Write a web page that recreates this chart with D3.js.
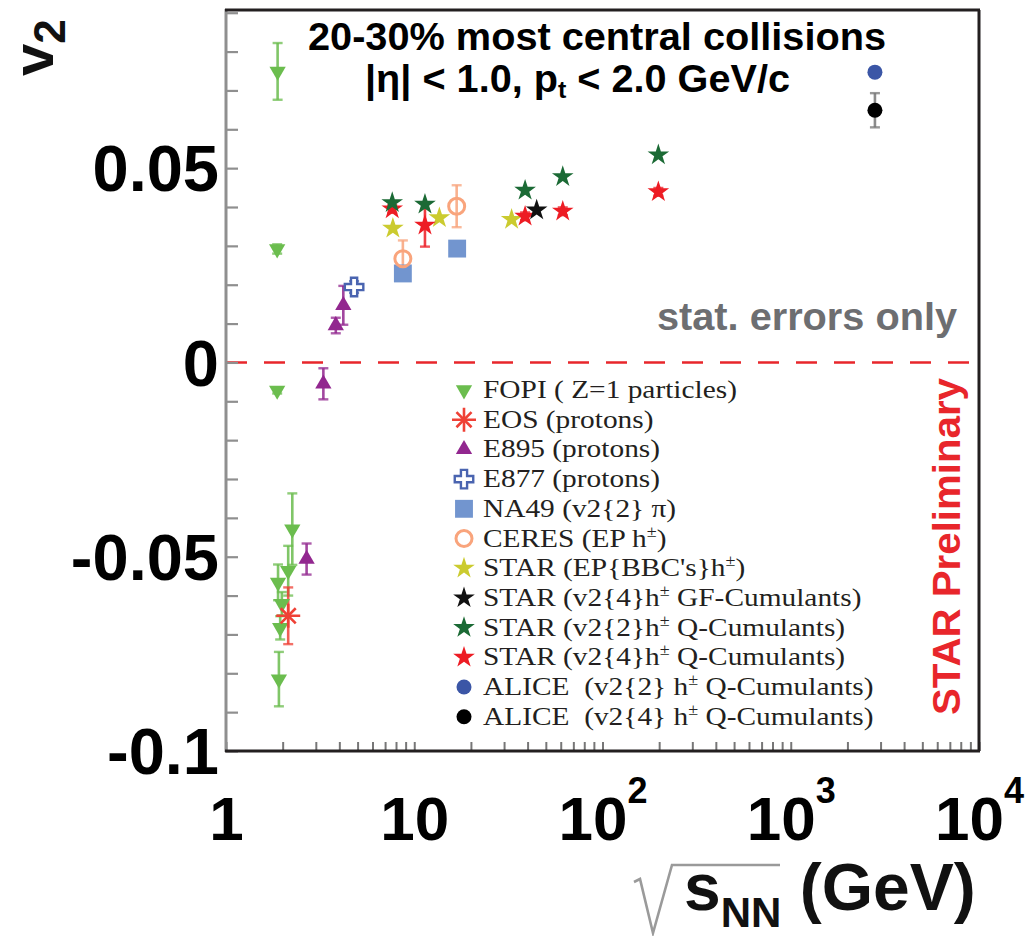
<!DOCTYPE html>
<html><head><meta charset="utf-8">
<script src="https://cdn.jsdelivr.net/npm/d3@7"></script>
<style>body{margin:0;background:#fff;} svg{display:block;} text{white-space:pre;}</style>
</head><body><svg id="c" width="1030" height="936"></svg>
<script>
// ---------------- data ----------------
const fopiX   = [1.88, 1.87, 1.87, 2.25, 2.14, 1.89, 1.98, 1.94, 1.91];
const fopiV   = [0.0749, 0.0292, -0.0072, -0.0429, -0.0536, -0.0566, -0.0621, -0.0683, -0.0815];
const fopiErr = [0.0073, 0.0012, 0.0008, 0.0092, 0.0064, 0.0046, 0.003, 0.003, 0.007];

const eosX   = [2.14];
const eosV   = [-0.0652];
const eosErr = [0.0073];

const e895X   = [2.68, 3.29, 3.83, 4.2];
const e895V   = [-0.0506, -0.0055, 0.0095, 0.0147];
const e895Err = [0.004, 0.004, 0.002, 0.005];

const e877X   = [4.79];
const e877V   = [0.0194];
const e877Err = [0.0015];

const na49X   = [8.7, 16.9];
const na49V   = [0.0229, 0.0293];
const na49Err = [0.001, 0.001];

const ceresX   = [8.7, 16.8];
const ceresV   = [0.0267, 0.0402];
const ceresErr = [0.0047, 0.0054];

const starEPX = [7.7, 13.6, 32.9];
const starEPV = [0.0345, 0.0372, 0.0368];

const starGFX = [44.7];
const starGFV = [0.0392];

const starQ2X = [7.64, 11.4, 38.8, 61.5, 198];
const starQ2V = [0.0411, 0.0407, 0.0443, 0.0478, 0.0534];

const starQ4X   = [7.64, 11.4, 38.8, 61.5, 198];
const starQ4V   = [0.0395, 0.0353, 0.0376, 0.0389, 0.0439];
const starQ4Err = [0.001, 0.0055, 0.001, 0.001, 0.001];

const alice2X = [2800];
const alice2V = [0.0747];

const alice4X   = [2800];
const alice4V   = [0.0649];
const alice4Err = [0.0044];

const legendLabels = [
  "FOPI ( Z=1 particles)",
  "EOS (protons)",
  "E895 (protons)",
  "E877 (protons)",
  "NA49 (v2{2} \u03c0)",
  "CERES (EP h^\u00b1)",
  "STAR (EP{BBC's}h^\u00b1)",
  "STAR (v2{4}h^\u00b1 GF-Cumulants)",
  "STAR (v2{2}h^\u00b1 Q-Cumulants)",
  "STAR (v2{4}h^\u00b1 Q-Cumulants)",
  "ALICE  (v2{2} h^\u00b1 Q-Cumulants)",
  "ALICE  (v2{4} h^\u00b1 Q-Cumulants)"
];

const xMajor = [1, 10, 100, 1000, 10000];
const xTickLabels = ["1", "10", "10^2", "10^3", "10^4"];
const yMajor = [-0.1, -0.05, 0, 0.05];
const yTickLabels = ["-0.1", "-0.05", "0", "0.05"];

// ---------------- series table built from arrays ----------------
const z = (a) => a.map(() => 0);
const series = [
  {kind:'triDown', color:'#6bbd4e', xs:fopiX,  vs:fopiV,  es:fopiErr},
  {kind:'asterisk',color:'#ef4136', xs:eosX,   vs:eosV,   es:eosErr},
  {kind:'triUp',   color:'#92278f', xs:e895X,  vs:e895V,  es:e895Err},
  {kind:'cross',   color:'#4a64b0', xs:e877X,  vs:e877V,  es:e877Err},
  {kind:'square',  color:'#7295cf', xs:na49X,  vs:na49V,  es:na49Err},
  {kind:'ocircle', color:'#f9a47c', xs:ceresX, vs:ceresV, es:ceresErr},
  {kind:'star',    color:'#cbcb2f', xs:starEPX,vs:starEPV,es:z(starEPX)},
  {kind:'star',    color:'#ed1c24', xs:starQ4X,vs:starQ4V,es:starQ4Err},
  {kind:'star',    color:'#111111', xs:starGFX,vs:starGFV,es:z(starGFX)},
  {kind:'star',    color:'#1b6a35', xs:starQ2X,vs:starQ2V,es:z(starQ2X)},
  {kind:'circle',  color:'#3b56a6', xs:alice2X,vs:alice2V,es:z(alice2X)},
  {kind:'circle',  color:'#000000', xs:alice4X,vs:alice4V,es:alice4Err}
];
// legend order -> series index
const legendOrder = [0,1,2,3,4,5,6,8,9,7,10,11];

// ---------------- drawing ----------------
const svg = d3.select('#c');
const x = d3.scaleLog().domain([1, 1e4]).range([226, 979]);
const y = d3.scaleLinear().domain([-0.1, 0.0907]).range([751, 10]);

const SANS = "'Liberation Sans', Arial, Helvetica, sans-serif";
const SERIF = "'Liberation Serif', 'Times New Roman', serif";

function marker(g, kind, color, cx, cy) {
  const t = `translate(${cx},${cy})`;
  switch (kind) {
    case 'triDown':
      g.append('path').attr('d', d3.symbol(d3.symbolTriangle, 115)())
        .attr('transform', t + ' rotate(180)').attr('fill', color); break;
    case 'triUp':
      g.append('path').attr('d', d3.symbol(d3.symbolTriangle, 115)())
        .attr('transform', t).attr('fill', color); break;
    case 'asterisk':
      g.append('path').attr('d', d3.symbol(d3.symbolPlus, 190)())
        .attr('transform', t).attr('fill', 'none').attr('stroke', color).attr('stroke-width', 2.6);
      g.append('path').attr('d', d3.symbol(d3.symbolTimes, 150)())
        .attr('transform', t).attr('fill', 'none').attr('stroke', color).attr('stroke-width', 2.6);
      break;
    case 'cross':
      g.append('path').attr('d', d3.symbol(d3.symbolCross, 190)())
        .attr('transform', t).attr('fill', '#fff').attr('stroke', color).attr('stroke-width', 2.4); break;
    case 'square':
      g.append('path').attr('d', d3.symbol(d3.symbolSquare, 320)())
        .attr('transform', t).attr('fill', color); break;
    case 'ocircle':
      g.append('circle').attr('cx', cx).attr('cy', cy).attr('r', 8)
        .attr('fill', 'none').attr('stroke', color).attr('stroke-width', 3); break;
    case 'star':
      g.append('path').attr('d', d3.symbol(d3.symbolStar, 145)())
        .attr('transform', t).attr('fill', color); break;
    case 'circle':
      g.append('circle').attr('cx', cx).attr('cy', cy).attr('r', 7.5).attr('fill', color); break;
  }
}

// zero line
svg.append('line').attr('x1', x(1)).attr('x2', x(1e4)).attr('y1', y(0)).attr('y2', y(0))
  .attr('stroke', '#e8262b').attr('stroke-width', 2.6).attr('stroke-dasharray', '21,17');

// axes (ticks inside)
const yTicks = d3.range(-10, 10).map(i => i / 100);
const yAx = svg.append('g').attr('transform', `translate(${x(1)},0)`)
  .call(d3.axisLeft(y).tickValues(yTicks).tickSize(-12).tickPadding(7)
    .tickFormat(v => { const i = yMajor.findIndex(m => Math.abs(m - v) < 1e-9); return i >= 0 ? yTickLabels[i] : ''; }));
yAx.select('.domain').remove();
yAx.selectAll('.tick line').attr('stroke', '#8f8f8f').attr('stroke-width', 2.2);
yAx.selectAll('.tick text').attr('font-family', SANS).attr('font-weight', 'bold')
  .attr('font-size', 65).attr('fill', '#000').attr('dy', '0.35em');

const xTicks = [];
for (let d = 0; d < 4; d++) for (let k = 1; k <= 9; k++) xTicks.push(k * Math.pow(10, d));
xTicks.push(1e4);
const xAx = svg.append('g').attr('transform', `translate(0,${y(-0.1)})`)
  .call(d3.axisBottom(x).tickValues(xTicks).tickSize(-9).tickPadding(45).tickFormat(() => ''));
xAx.select('.domain').remove();
xAx.selectAll('.tick line').attr('stroke', '#777').attr('stroke-width', 2);
xAx.selectAll('.tick').each(function(v) {
  const i = xMajor.findIndex(m => Math.abs(m - v) / m < 1e-9);
  if (i < 0) return;
  const txt = d3.select(this).select('text').text(null)
    .attr('font-family', SANS).attr('font-weight', 'bold').attr('font-size', 62).attr('fill', '#000');
  const parts = xTickLabels[i].split('^');
  txt.append('tspan').text(parts[0]);
  if (parts[1]) txt.append('tspan').attr('font-size', 36).attr('dy', -37).text(parts[1]);
});

// frame
svg.append('line').attr('x1', x(1)).attr('x2', x(1)).attr('y1', y(0.0907) - 1).attr('y2', y(-0.1) + 1)
  .attr('stroke', '#8f8f8f').attr('stroke-width', 3);
svg.append('line').attr('x1', x(1) - 1).attr('x2', x(1e4) + 1).attr('y1', y(-0.1)).attr('y2', y(-0.1))
  .attr('stroke', '#231f20').attr('stroke-width', 3);
svg.append('line').attr('x1', x(1) - 1).attr('x2', x(1e4) + 1).attr('y1', y(0.0907)).attr('y2', y(0.0907))
  .attr('stroke', '#231f20').attr('stroke-width', 3);
svg.append('line').attr('x1', x(1e4)).attr('x2', x(1e4)).attr('y1', y(0.0907)).attr('y2', y(-0.1))
  .attr('stroke', '#231f20').attr('stroke-width', 3);

// data: error bars then markers
const plot = svg.append('g');
series.forEach(s => {
  s.xs.forEach((xv, i) => {
    const e = s.es[i];
    if (!e) return;
    const cx = x(xv), y1 = y(s.vs[i] + e), y2 = y(s.vs[i] - e);
    const c = s.color === '#000000' ? '#777' : s.color;
    plot.append('line').attr('x1', cx).attr('x2', cx).attr('y1', y1).attr('y2', y2)
      .attr('stroke', c).attr('stroke-width', 2.6).attr('opacity', 0.85);
    [y1, y2].forEach(yy => plot.append('line').attr('x1', cx - 5).attr('x2', cx + 5).attr('y1', yy).attr('y2', yy)
      .attr('stroke', c).attr('stroke-width', 2.4).attr('opacity', 0.75));
  });
});
series.forEach(s => {
  s.xs.forEach((xv, i) => marker(plot, s.kind, s.color, x(xv), y(s.vs[i])));
});

// legend
const leg = svg.append('g');
legendLabels.forEach((lab, j) => {
  const s = series[legendOrder[j]];
  const cy = 390 + j * 29.7;
  marker(leg, s.kind, s.color, 464, cy);
  const t = leg.append('text').attr('transform', `translate(483,${cy + 8}) scale(1.13,1)`)
    .attr('font-family', SERIF).attr('font-size', 26).attr('fill', '#231f20');
  const parts = lab.split('^');
  t.append('tspan').text(parts[0]);
  if (parts.length > 1) {
    t.append('tspan').attr('font-size', 16).attr('dy', -10).text(parts[1][0]);
    t.append('tspan').attr('dy', 10).text(parts[1].slice(1));
  }
});

// titles
svg.append('text').attr('x', 308).attr('y', 50).attr('font-family', SANS).attr('font-weight', 'bold')
  .attr('font-size', 38).attr('textLength', 578).attr('lengthAdjust', 'spacingAndGlyphs')
  .text('20-30% most central collisions');
const t2 = svg.append('text').attr('x', 365).attr('y', 92).attr('font-family', SANS).attr('font-weight', 'bold')
  .attr('font-size', 38).attr('textLength', 425).attr('lengthAdjust', 'spacingAndGlyphs');
t2.append('tspan').text('|\u03b7| < 1.0, p');
t2.append('tspan').attr('font-size', 24).attr('dy', 6).text('t');
t2.append('tspan').attr('dy', -6).text(' < 2.0 GeV/c');

svg.append('text').attr('x', 657).attr('y', 330).attr('font-family', SANS).attr('font-weight', 'bold')
  .attr('font-size', 38).attr('fill', '#6d6e71').attr('textLength', 300).attr('lengthAdjust', 'spacingAndGlyphs')
  .text('stat. errors only');

svg.append('text').attr('transform', 'translate(960,715) rotate(-90)').attr('font-family', SANS)
  .attr('font-weight', 'bold').attr('font-size', 39).attr('fill', '#e8262b')
  .attr('textLength', 337).attr('lengthAdjust', 'spacingAndGlyphs').text('STAR Preliminary');

// y label
const yl = svg.append('text').attr('transform', 'translate(53,76) rotate(-90)').attr('font-family', SANS)
  .attr('font-weight', 'bold').attr('font-size', 58).attr('fill', '#111');
yl.append('tspan').text('v');
yl.append('tspan').attr('font-size', 44).attr('dy', 12).text('2');

// x label
svg.append('path').attr('d', 'M634,882 L640,879 L653,933 L672,865 L780,865')
  .attr('fill', 'none').attr('stroke', '#9a9a9a').attr('stroke-width', 2.6);
const xl = svg.append('text').attr('x', 684).attr('y', 910).attr('font-family', SANS)
  .attr('font-weight', 'bold').attr('font-size', 66).attr('fill', '#111');
xl.append('tspan').text('s');
xl.append('tspan').attr('font-size', 42).attr('dy', 17).text('NN');
xl.append('tspan').attr('dy', -17).text(' (GeV)');
</script></body></html>
